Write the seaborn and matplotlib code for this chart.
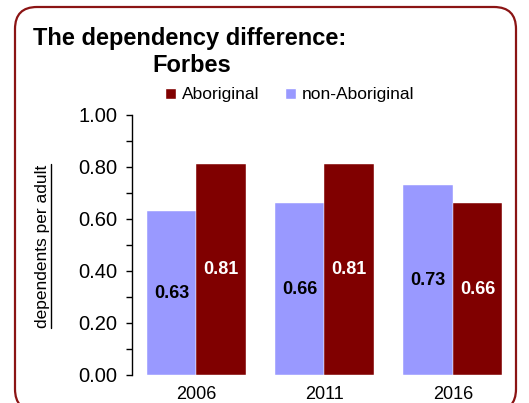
import matplotlib
matplotlib.use("Agg")
import matplotlib.pyplot as plt
from matplotlib.patches import FancyBboxPatch, Patch
from matplotlib.lines import Line2D
from matplotlib.ticker import MultipleLocator, FormatStrFormatter
import seaborn as sns
import pandas as pd

years = ["2006", "2011", "2016"]
non_aboriginal = [0.63, 0.66, 0.73]
aboriginal = [0.81, 0.81, 0.66]
series_names = ["non-Aboriginal", "Aboriginal"]
colors = {"non-Aboriginal": "#9999FF", "Aboriginal": "#800000"}

df = pd.DataFrame({
    "year": years * 2,
    "value": non_aboriginal + aboriginal,
    "group": ["non-Aboriginal"] * 3 + ["Aboriginal"] * 3,
})

sns.set_style("ticks")
plt.rcParams["font.family"] = ["Liberation Sans", "DejaVu Sans"]
plt.rcParams["text.color"] = "black"
plt.rcParams["axes.labelcolor"] = "black"
plt.rcParams["xtick.color"] = "black"
plt.rcParams["ytick.color"] = "black"

W, H = 529, 403
fig = plt.figure(figsize=(W / 100, H / 100), dpi=100)
ax = fig.add_axes([132 / W, 1 - 375 / H, (517 - 132) / W, (375 - 115) / H])

sns.barplot(data=df, x="year", y="value", hue="group", order=years,
            hue_order=series_names, palette=colors, width=0.77,
            saturation=1, ax=ax, legend=False, errorbar=None,
            edgecolor="white", linewidth=0.3)

ax.set_xlim(-0.5, 2.5)
ax.set_ylim(0, 1.0)
ax.yaxis.set_major_locator(MultipleLocator(0.2))
ax.yaxis.set_minor_locator(MultipleLocator(0.1))
ax.yaxis.set_major_formatter(FormatStrFormatter("%.2f"))
ax.tick_params(axis="y", which="both", direction="out", length=4.5, width=1,
               color="black", labelcolor="black", labelsize=14.5, pad=6)
ax.tick_params(axis="x", length=0, labelsize=13, labelcolor="black", pad=8)
for s in ["top", "right", "bottom"]:
    ax.spines[s].set_visible(False)
ax.spines["left"].set_color("black")
ax.spines["left"].set_linewidth(1)
ax.set_xlabel("")
ax.set_ylabel("")

# value labels
for cont, name in zip(ax.containers, series_names):
    tc = "black" if name == "non-Aboriginal" else "white"
    for rect in cont:
        h = rect.get_height()
        ax.text(rect.get_x() + rect.get_width() / 2, h / 2, f"{h:.2f}",
                ha="center", va="center", fontsize=13, fontweight="bold",
                color=tc)

# y label
ylab = fig.text(43 / W, 1 - 246 / H, "dependents per adult", rotation=90,
                ha="center", va="center", fontsize=12.5, color="black")

# title
fig.text(33 / W, 1 - 45 / H, "The dependency difference:", fontsize=17,
         fontweight="bold", ha="left", va="baseline", color="black")
fig.text(152 / W, 1 - 72 / H, "Forbes", fontsize=17,
         fontweight="bold", ha="left", va="baseline", color="black")

# legend
handles = [Patch(facecolor=colors["Aboriginal"]),
           Patch(facecolor=colors["non-Aboriginal"])]
fig.legend(handles, ["Aboriginal", "non-Aboriginal"], loc="center left",
           bbox_to_anchor=(165 / W, 1 - 95 / H), ncol=2, frameon=False,
           fontsize=12.5, handlelength=0.65, handleheight=0.65,
           handletextpad=0.3, columnspacing=1.5, borderpad=0,
           borderaxespad=0, labelcolor="black")

# border
border = FancyBboxPatch((0.15, -0.08), 5.01, 4.04,
                        boxstyle="round,pad=0,rounding_size=0.22",
                        transform=fig.dpi_scale_trans, facecolor="none",
                        edgecolor="#8B1414", linewidth=1.6, clip_on=False)
fig.add_artist(border)

# underline for y label
fig.canvas.draw()
bb = ylab.get_window_extent()
xl = (bb.x1 + 0.5) / W
fig.add_artist(Line2D([xl, xl], [bb.y0 / H, bb.y1 / H], color="black",
                      linewidth=1, transform=fig.transFigure))

fig.savefig("out.png", dpi=100)
